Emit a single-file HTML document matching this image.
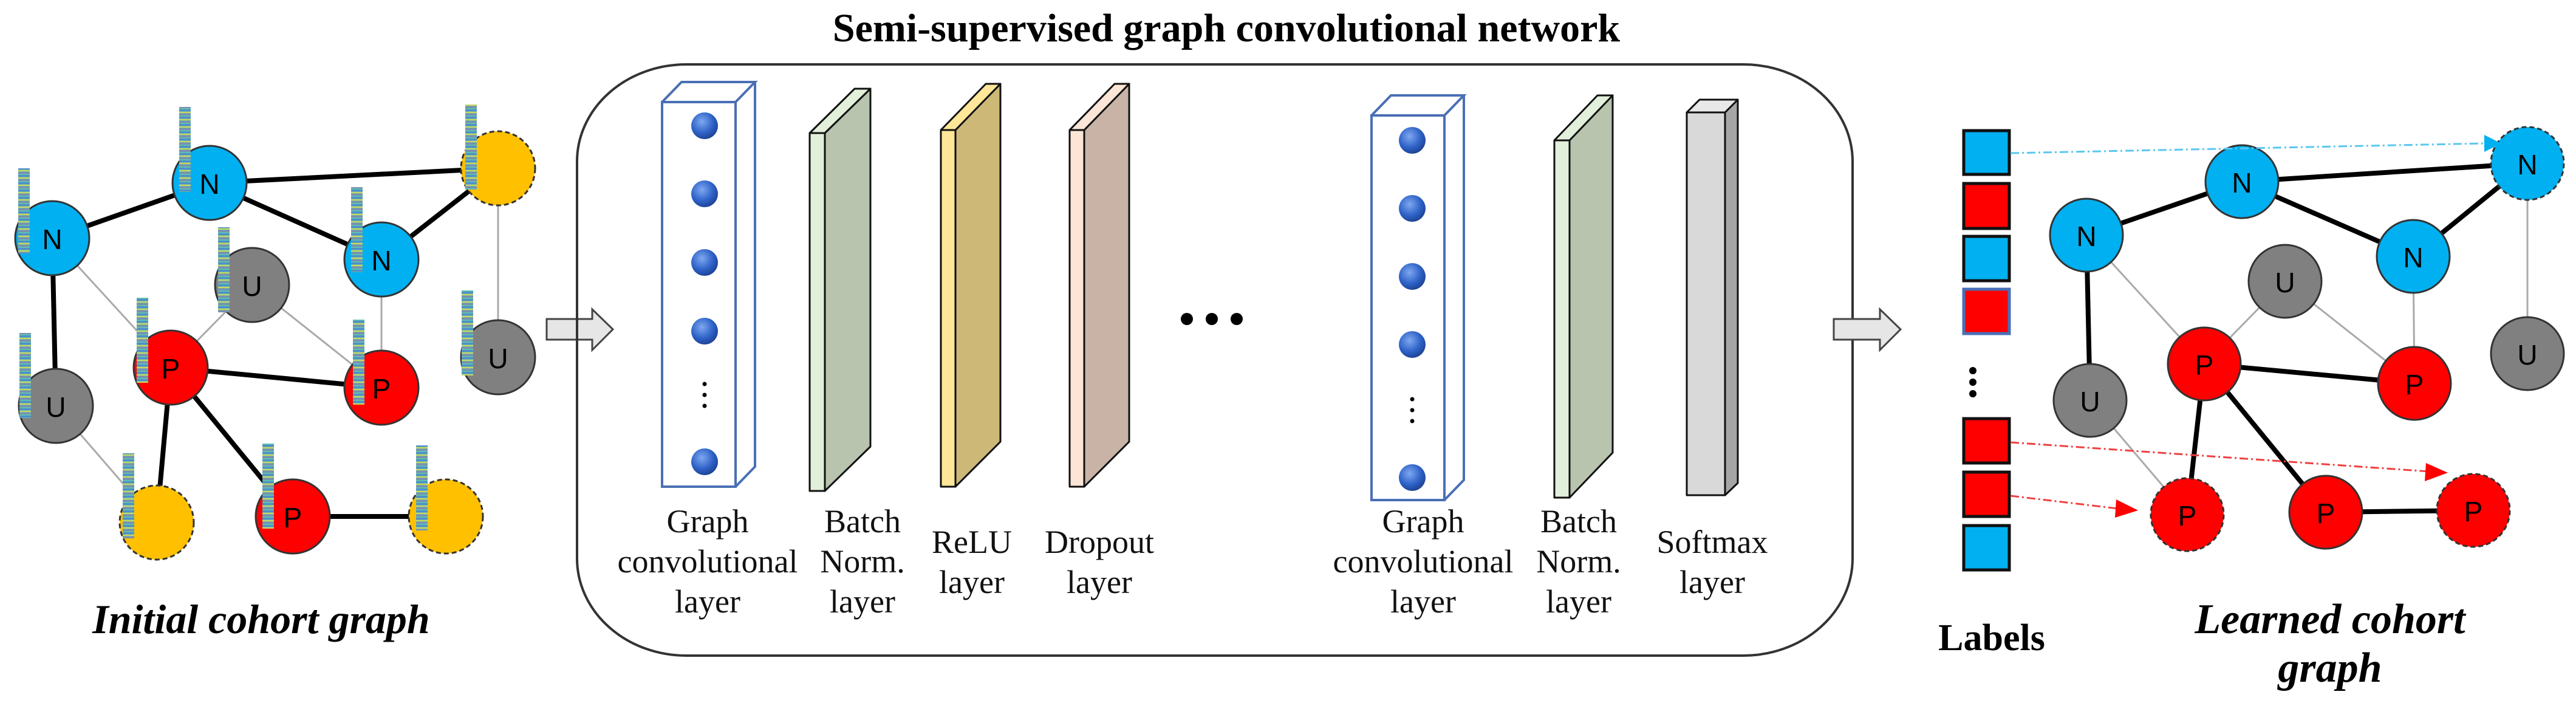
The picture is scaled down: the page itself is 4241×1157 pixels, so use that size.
<!DOCTYPE html>
<html><head><meta charset="utf-8"><style>
html,body{margin:0;padding:0;background:#fff;}
svg{display:block;}
.t{font-family:"Liberation Serif",serif;}
.n{font-family:"Liberation Sans",sans-serif;font-size:46px;text-anchor:middle;dominant-baseline:central;}
</style></head><body>
<svg width="4241" height="1157" viewBox="0 0 4241 1157" xmlns="http://www.w3.org/2000/svg">
<defs>
<pattern id="st" width="20" height="12" patternUnits="userSpaceOnUse">
<rect width="20" height="12" fill="#6fb3a8"/>
<rect y="0" width="20" height="3" fill="#4f8fc9"/>
<rect y="4" width="20" height="2" fill="#c8d860"/>
<rect y="7" width="20" height="3" fill="#7a8fb0"/>
<rect y="10" width="20" height="2" fill="#5fc0b0"/>
</pattern>
<radialGradient id="ball" cx="0.4" cy="0.35" r="0.7">
<stop offset="0" stop-color="#7fa8f0"/><stop offset="0.6" stop-color="#2e62c8"/><stop offset="1" stop-color="#1c3f8c"/>
</radialGradient>
</defs>

<!-- LEFT GRAPH -->
<g stroke-linecap="round">
<g stroke="#000" stroke-width="8">
<line x1="86" y1="392" x2="345" y2="301"/><line x1="345" y1="301" x2="820" y2="277"/>
<line x1="345" y1="301" x2="628" y2="427"/><line x1="628" y1="427" x2="820" y2="277"/>
<line x1="86" y1="392" x2="92" y2="668"/><line x1="281" y1="605" x2="628" y2="638"/>
<line x1="281" y1="605" x2="258" y2="860"/><line x1="281" y1="605" x2="482" y2="850"/>
<line x1="482" y1="850" x2="734" y2="850"/>
</g>
<g stroke="#aaa" stroke-width="3">
<line x1="86" y1="392" x2="281" y2="605"/><line x1="415" y1="469" x2="281" y2="605"/>
<line x1="415" y1="469" x2="628" y2="638"/><line x1="628" y1="427" x2="628" y2="638"/>
<line x1="820" y1="277" x2="820" y2="588"/><line x1="92" y1="668" x2="258" y2="860"/>
</g>
</g>
<g stroke="#333" stroke-width="3">
<circle cx="86" cy="392" r="61" fill="#00b0f0"/>
<circle cx="345" cy="301" r="61" fill="#00b0f0"/>
<circle cx="628" cy="427" r="61" fill="#00b0f0"/>
<circle cx="820" cy="277" r="61" fill="#ffc000" stroke-dasharray="8 5"/>
<circle cx="415" cy="469" r="61" fill="#808080"/>
<circle cx="820" cy="588" r="61" fill="#808080"/>
<circle cx="92" cy="668" r="61" fill="#808080"/>
<circle cx="281" cy="605" r="61" fill="#ff0000"/>
<circle cx="628" cy="638" r="61" fill="#ff0000"/>
<circle cx="258" cy="860" r="61" fill="#ffc000" stroke-dasharray="8 5"/>
<circle cx="482" cy="850" r="61" fill="#ff0000"/>
<circle cx="734" cy="850" r="61" fill="#ffc000" stroke-dasharray="8 5"/>
</g>
<g fill="url(#st)">
<rect x="30" y="277" width="19" height="140"/>
<rect x="295" y="176" width="19" height="140"/>
<rect x="578" y="308" width="19" height="140"/>
<rect x="766" y="172" width="19" height="140"/>
<rect x="359" y="374" width="19" height="140"/>
<rect x="760" y="478" width="19" height="140"/>
<rect x="32" y="548" width="19" height="140"/>
<rect x="225" y="490" width="19" height="140"/>
<rect x="581" y="526" width="19" height="140"/>
<rect x="202" y="746" width="19" height="140"/>
<rect x="432" y="730" width="19" height="140"/>
<rect x="685" y="733" width="19" height="140"/>
</g>
<g class="n">
<text x="86" y="394">N</text><text x="345" y="303">N</text><text x="628" y="429">N</text>
<text x="415" y="471">U</text><text x="820" y="590">U</text><text x="92" y="670">U</text>
<text x="281" y="607">P</text><text x="628" y="640">P</text><text x="482" y="852">P</text>
</g>
<text class="t" x="430" y="1042" font-size="68" font-weight="bold" font-style="italic" text-anchor="middle">Initial cohort graph</text>

<!-- ARROW 1 -->
<path d="M900,525 L975,525 L975,509 L1009,542 L975,576 L975,559 L900,559 Z" fill="#e6e6e6" stroke="#444" stroke-width="3"/>

<!-- MIDDLE BOX -->
<text class="t" x="2019" y="68" font-size="66" font-weight="bold" text-anchor="middle">Semi-supervised graph convolutional network</text>
<rect x="950" y="106" width="2100" height="973" rx="180" ry="160" fill="none" stroke="#333" stroke-width="4"/>

<!-- layer 1 graph conv -->
<g fill="none" stroke="#4a6fb5" stroke-width="4">
<rect x="1090" y="168" width="121" height="633" fill="#fff"/>
<path d="M1090,168 L1122,135 L1243,135 L1211,168 M1243,135 L1243,768 L1211,801"/>
</g>
<g fill="url(#ball)">
<circle cx="1160" cy="207" r="22"/><circle cx="1160" cy="319" r="22"/><circle cx="1160" cy="432" r="22"/><circle cx="1160" cy="545" r="22"/><circle cx="1160" cy="760" r="22"/>
</g>
<g fill="#000"><circle cx="1160" cy="632" r="3.5"/><circle cx="1160" cy="650" r="3.5"/><circle cx="1160" cy="668" r="3.5"/></g>

<!-- BN 1 -->
<g stroke="#111" stroke-width="3" stroke-linejoin="round">
<path d="M1358,219 L1433,146 L1433,735 L1358,808 Z" fill="#b8c4ae"/>
<path d="M1333,219 L1407,146 L1433,146 L1358,219 Z" fill="#e2efda"/>
<rect x="1333" y="219" width="25" height="589" fill="#e2efda"/>
</g>
<!-- ReLU -->
<g stroke="#111" stroke-width="3" stroke-linejoin="round">
<path d="M1573,214 L1647,138 L1647,727 L1573,801 Z" fill="#cdb878"/>
<path d="M1549,214 L1623,138 L1647,138 L1573,214 Z" fill="#ffe699"/>
<rect x="1549" y="214" width="24" height="587" fill="#ffe699"/>
</g>
<!-- Dropout -->
<g stroke="#111" stroke-width="3" stroke-linejoin="round">
<path d="M1785,214 L1859,138 L1859,727 L1785,801 Z" fill="#c9b3a6"/>
<path d="M1761,214 L1835,138 L1859,138 L1785,214 Z" fill="#fbe5d6"/>
<rect x="1761" y="214" width="24" height="587" fill="#fbe5d6"/>
</g>
<g fill="#000"><circle cx="1954" cy="525" r="10"/><circle cx="1995" cy="525" r="10"/><circle cx="2036" cy="525" r="10"/></g>

<!-- layer 2 graph conv -->
<g fill="none" stroke="#4a6fb5" stroke-width="4">
<rect x="2258" y="190" width="120" height="633" fill="#fff"/>
<path d="M2258,190 L2290,157 L2410,157 L2378,190 M2410,157 L2410,790 L2378,823"/>
</g>
<g fill="url(#ball)">
<circle cx="2325" cy="231" r="22"/><circle cx="2325" cy="343" r="22"/><circle cx="2325" cy="455" r="22"/><circle cx="2325" cy="567" r="22"/><circle cx="2325" cy="786" r="22"/>
</g>
<g fill="#000"><circle cx="2325" cy="657" r="3.5"/><circle cx="2325" cy="675" r="3.5"/><circle cx="2325" cy="693" r="3.5"/></g>

<!-- BN 2 -->
<g stroke="#111" stroke-width="3" stroke-linejoin="round">
<path d="M2584,231 L2655,157 L2655,745 L2584,819 Z" fill="#b8c4ae"/>
<path d="M2559,231 L2630,157 L2655,157 L2584,231 Z" fill="#e2efda"/>
<rect x="2559" y="231" width="25" height="588" fill="#e2efda"/>
</g>
<!-- Softmax -->
<g stroke="#111" stroke-width="3" stroke-linejoin="round">
<path d="M2840,185 L2861,164 L2861,795 L2840,815 Z" fill="#a6a6a6"/>
<path d="M2777,185 L2798,164 L2861,164 L2840,185 Z" fill="#e8e8e8"/>
<rect x="2777" y="185" width="63" height="630" fill="#d9d9d9"/>
</g>

<g class="t" font-size="54" text-anchor="middle" fill="#111">
<text x="1165" y="876">Graph</text><text x="1165" y="942">convolutional</text><text x="1165" y="1008">layer</text>
<text x="1420" y="876">Batch</text><text x="1420" y="942">Norm.</text><text x="1420" y="1008">layer</text>
<text x="1600" y="910">ReLU</text><text x="1600" y="976">layer</text>
<text x="1810" y="910">Dropout</text><text x="1810" y="976">layer</text>
<text x="2343" y="876">Graph</text><text x="2343" y="942">convolutional</text><text x="2343" y="1008">layer</text>
<text x="2599" y="876">Batch</text><text x="2599" y="942">Norm.</text><text x="2599" y="1008">layer</text>
<text x="2819" y="910">Softmax</text><text x="2819" y="976">layer</text>
</g>

<!-- ARROW 2 -->
<path d="M3019,525 L3095,525 L3095,509 L3129,542 L3095,576 L3095,559 L3019,559 Z" fill="#e6e6e6" stroke="#444" stroke-width="3"/>

<!-- RIGHT: labels -->
<g stroke="#111" stroke-width="5">
<rect x="3233" y="215" width="75" height="72" fill="#00b0f0"/>
<rect x="3233" y="302" width="75" height="74" fill="#ff0000"/>
<rect x="3233" y="389" width="75" height="73" fill="#00b0f0"/>
<rect x="3233" y="476" width="75" height="73" fill="#ff0000" stroke="#4a6fb5"/>
<rect x="3233" y="689" width="75" height="73" fill="#ff0000"/>
<rect x="3233" y="777" width="75" height="73" fill="#ff0000"/>
<rect x="3233" y="865" width="75" height="73" fill="#00b0f0"/>
</g>
<g fill="#000"><circle cx="3248" cy="610" r="6"/><circle cx="3248" cy="629" r="6"/><circle cx="3248" cy="648" r="6"/></g>

<!-- right graph edges -->
<g stroke-linecap="round">
<g stroke="#000" stroke-width="8">
<line x1="3435" y1="387" x2="3691" y2="299"/><line x1="3691" y1="299" x2="4161" y2="269"/>
<line x1="3691" y1="299" x2="3973" y2="422"/><line x1="3973" y1="422" x2="4161" y2="269"/>
<line x1="3435" y1="387" x2="3441" y2="659"/><line x1="3629" y1="599" x2="3975" y2="631"/>
<line x1="3629" y1="599" x2="3601" y2="847"/><line x1="3629" y1="599" x2="3829" y2="843"/>
<line x1="3829" y1="843" x2="4072" y2="840"/>
</g>
<g stroke="#aaa" stroke-width="3">
<line x1="3435" y1="387" x2="3629" y2="599"/><line x1="3762" y1="463" x2="3629" y2="599"/>
<line x1="3762" y1="463" x2="3975" y2="631"/><line x1="3973" y1="422" x2="3975" y2="631"/>
<line x1="4161" y1="269" x2="4161" y2="582"/><line x1="3441" y1="659" x2="3601" y2="847"/>
</g>
</g>
<g stroke="#333" stroke-width="3">
<circle cx="3435" cy="387" r="60" fill="#00b0f0"/>
<circle cx="3691" cy="299" r="60" fill="#00b0f0"/>
<circle cx="3973" cy="422" r="60" fill="#00b0f0"/>
<circle cx="4161" cy="269" r="60" fill="#00b0f0" stroke-dasharray="8 5"/>
<circle cx="3762" cy="463" r="60" fill="#808080"/>
<circle cx="4161" cy="582" r="60" fill="#808080"/>
<circle cx="3441" cy="659" r="60" fill="#808080"/>
<circle cx="3629" cy="599" r="60" fill="#ff0000"/>
<circle cx="3975" cy="631" r="60" fill="#ff0000"/>
<circle cx="3601" cy="847" r="60" fill="#ff0000" stroke-dasharray="8 5"/>
<circle cx="3829" cy="843" r="60" fill="#ff0000"/>
<circle cx="4072" cy="840" r="60" fill="#ff0000" stroke-dasharray="8 5"/>
</g>
<g class="n">
<text x="3435" y="389">N</text><text x="3691" y="301">N</text><text x="3973" y="424">N</text><text x="4161" y="271">N</text>
<text x="3762" y="465">U</text><text x="4161" y="584">U</text><text x="3441" y="661">U</text>
<text x="3629" y="601">P</text><text x="3975" y="633">P</text><text x="3601" y="849">P</text><text x="3829" y="845">P</text><text x="4072" y="842">P</text>
</g>

<!-- dashed label arrows -->
<line x1="3310" y1="252" x2="4090" y2="236" stroke="#5ac8f0" stroke-width="3" stroke-dasharray="14 5 3 5"/>
<path d="M4090,222 L4118,236 L4090,250 Z" fill="#00b0f0"/>
<line x1="3310" y1="728" x2="4000" y2="776" stroke="#f04040" stroke-width="3" stroke-dasharray="14 5 3 5"/>
<path d="M3994,762 L4030,778 L3992,792 Z" fill="#ff0000"/>
<line x1="3310" y1="816" x2="3495" y2="838" stroke="#f04040" stroke-width="3" stroke-dasharray="14 5 3 5"/>
<path d="M3484,822 L3520,840 L3482,852 Z" fill="#ff0000"/>

<text class="t" x="3279" y="1070" font-size="62" font-weight="bold" text-anchor="middle">Labels</text>
<text class="t" x="3836" y="1042" font-size="70" font-weight="bold" font-style="italic" text-anchor="middle">Learned cohort</text>
<text class="t" x="3836" y="1122" font-size="70" font-weight="bold" font-style="italic" text-anchor="middle">graph</text>
</svg>
</body></html>
